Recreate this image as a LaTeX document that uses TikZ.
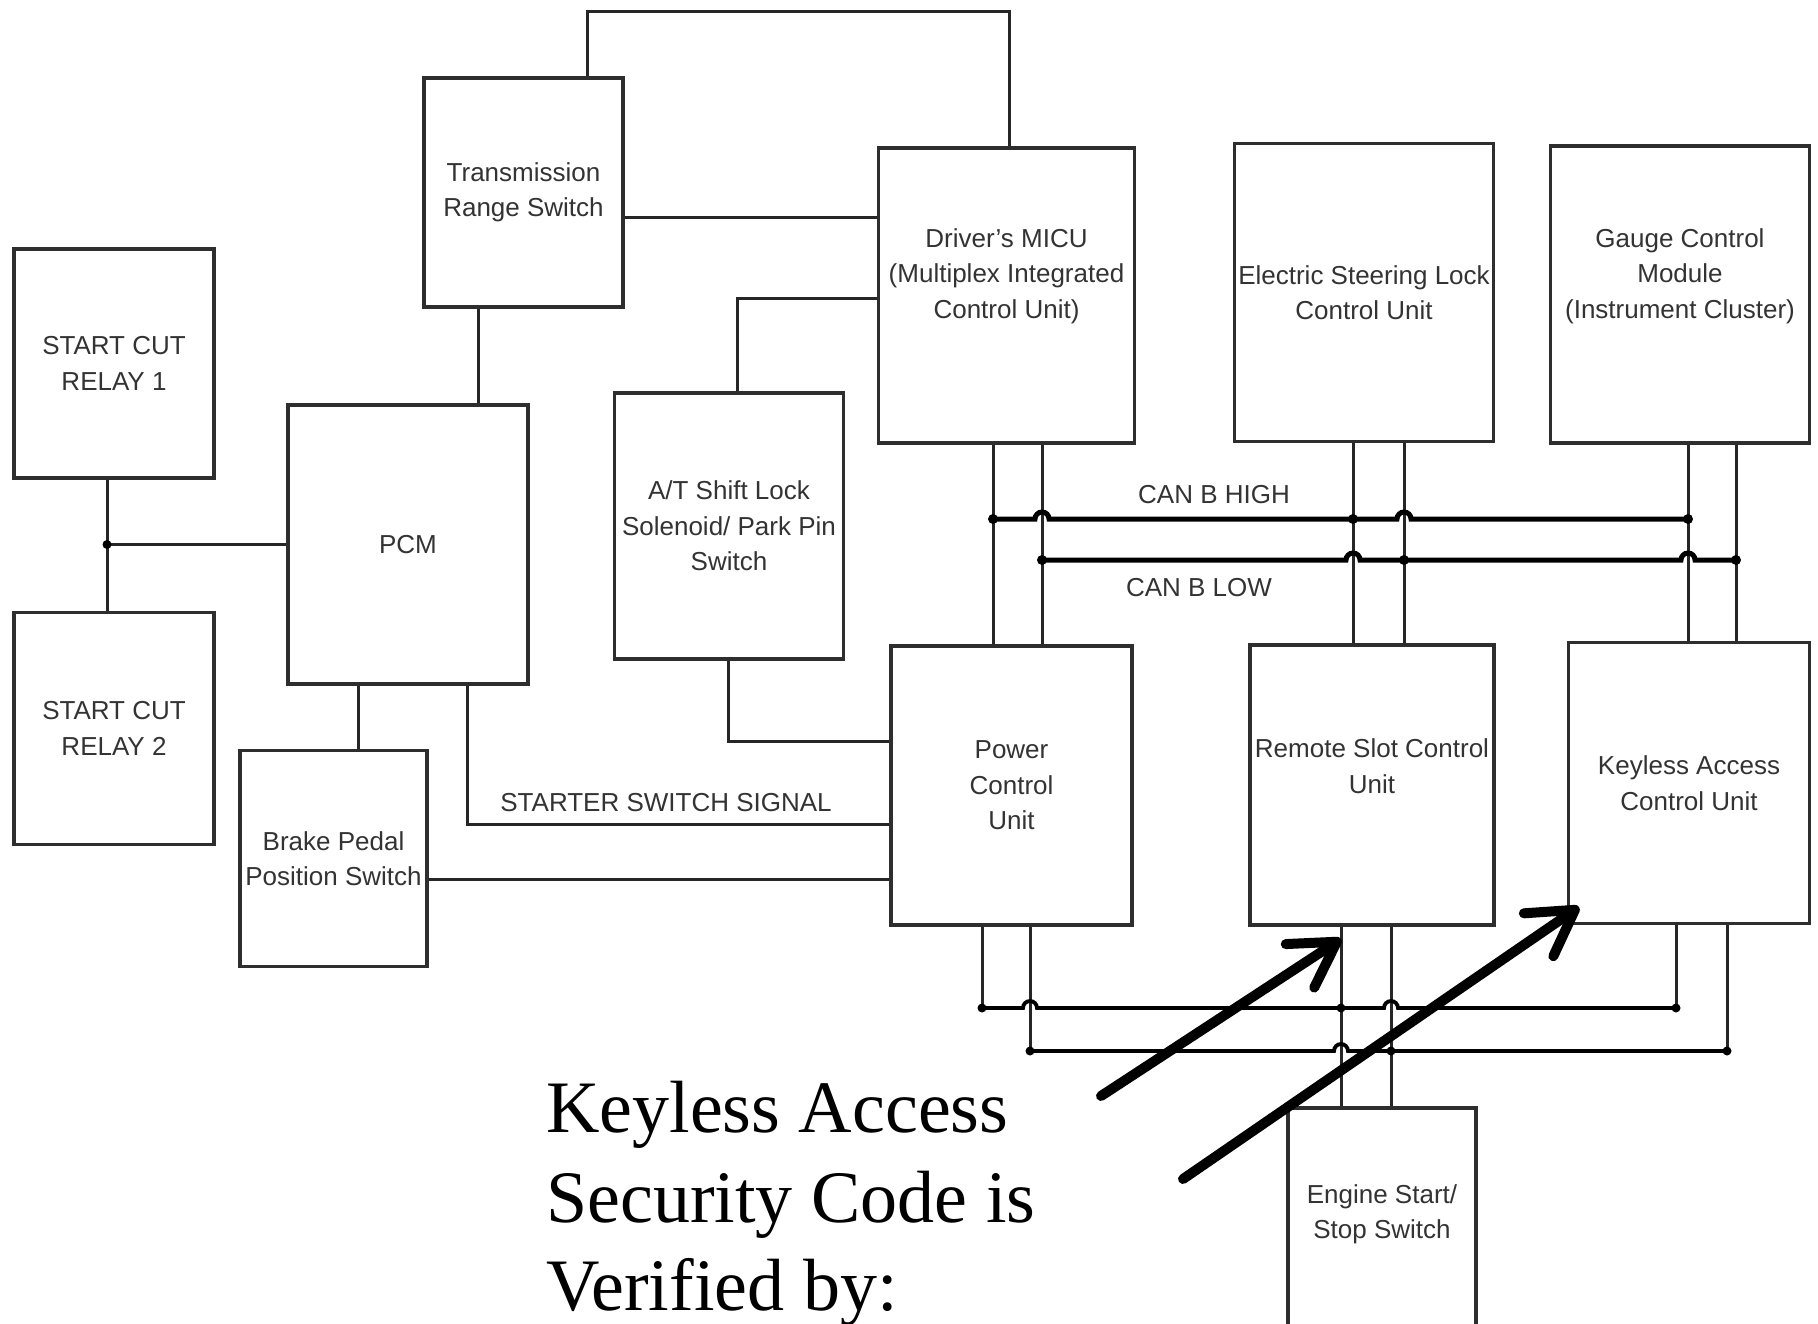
\documentclass[tikz,border=0pt]{standalone}
\usepackage{fontspec}
\newfontfamily\arialf{Liberation Sans}
\newfontfamily\timesf{Liberation Serif}
\usetikzlibrary{calc,arrows.meta}
\newcommand\boxfont{\arialf\fontsize{26}{35.5}\selectfont}
\newcommand\bigfont{\timesf\fontsize{74}{89}\selectfont}
\begin{document}
\begin{tikzpicture}[x=1pt,y=-1pt,
  box/.style={draw=black!82, line width=3.2pt, rectangle, inner sep=0pt, align=center, font=\boxfont, text=black!80},
  wire/.style={draw=black!85, line width=3pt},
  can/.style={draw=black, line width=5pt},
  lowbus/.style={draw=black, line width=3.8pt},
  jdot/.style={circle, fill=black, inner sep=0pt, minimum size=10pt},
  lbl/.style={font=\boxfont, text=black!80, inner sep=0pt, align=center},
  bigtxt/.style={font=\bigfont, inner sep=0pt, anchor=base west},
  bigarrow/.style={draw=black, line width=10pt, line cap=round, -{Straight Barb[length=44pt,width=52pt,round]}},
]
\useasboundingbox (0,0) rectangle (1818,1323);
\clip (0,0) rectangle (1818,1323);
\fill[white] (0,0) rectangle (1818,1323);

% boxes
\node[box, minimum width=200pt, minimum height=229pt] (scr1) at (114,363.5) {START CUT\\RELAY 1};
\node[box, minimum width=200pt, minimum height=232pt] (scr2) at (114,728.5) {START CUT\\RELAY 2};
\node[box, minimum width=240pt, minimum height=279pt] (pcm) at (408,544.5) {PCM};
\node[box, minimum width=199pt, minimum height=229pt] (trs) at (523.5,192.5) {Transmission\\Range Switch};
\node[box, minimum width=187pt, minimum height=216pt] (bpp) at (333.5,858.5) {Brake Pedal\\Position Switch};
\node[box, minimum width=229pt, minimum height=266pt] (at) at (729,526) {A/T Shift Lock\\Solenoid/ Park Pin\\Switch};
\node[box, minimum width=256pt, minimum height=295pt] (micu) at (1006.5,295.5) {};
\node[lbl] (micut) at (1006.5,276) {Driver’s MICU\\(Multiplex Integrated\\Control Unit)};
\node[box, minimum width=259pt, minimum height=298pt] (esl) at (1364,292.5) {Electric Steering Lock\\Control Unit};
\node[box, minimum width=259pt, minimum height=297pt] (gcm) at (1680,294.5) {};
\node[lbl] (gcmt) at (1680,276) {Gauge Control\\Module\\(Instrument Cluster)};
\node[box, minimum width=241pt, minimum height=279pt] (pcu) at (1011.5,785.5) {Power\\Control\\Unit};
\node[box, minimum width=244pt, minimum height=280pt] (rscu) at (1372,785) {};
\node[lbl] (rscut) at (1372,766) {Remote Slot Control\\Unit};
\node[box, minimum width=241pt, minimum height=281pt] (kacu) at (1689,783) {Keyless Access\\Control Unit};
\node[box, minimum width=188pt, minimum height=240pt] (ess) at (1382,1228) {};
\node[lbl] (esst) at (1382,1214.5) {Engine Start/\\Stop Switch};

% helper coordinates
\coordinate (tw) at (0,11);
\coordinate (xa) at (587,0);
\coordinate (xb) at (1009,0);
\coordinate (ytm) at (0,217);
\coordinate (xat1) at (737,0);
\coordinate (yat1) at (0,298);
\coordinate (xat2) at (728,0);
\coordinate (yat2) at (0,741);
\coordinate (xtp) at (478,0);
\coordinate (xr) at (107,0);
\coordinate (xpb) at (358,0);
\coordinate (xps) at (467,0);
\coordinate (yss) at (0,824);
\coordinate (ybp) at (0,879);

% upper wires
\draw[wire] (trs.north -| xa) -- (xa |- tw) -- (xb |- tw) -- (micu.north -| xb);
\draw[wire] (trs.east |- ytm) -- (micu.west |- ytm);
\draw[wire] (at.north -| xat1) |- (micu.west |- yat1);
\draw[wire] (at.south -| xat2) |- (pcu.west |- yat2);
\draw[wire] (trs.south -| xtp) -- (pcm.north -| xtp);
\draw[wire] (scr1.south -| xr) -- (scr2.north -| xr);
\draw[wire] (pcm.west) -- (pcm.west -| xr);
\node[jdot, minimum size=9pt] (jr) at (pcm.west -| xr) {};
\draw[wire] (pcm.south -| xpb) -- (bpp.north -| xpb);
\draw[wire] (pcm.south -| xps) |- (pcu.west |- yss);
\node[lbl] (sss) at (666,803) {STARTER SWITCH SIGNAL};
\draw[wire] (bpp.east |- ybp) -- (pcu.west |- ybp);

% CAN bus
\coordinate (v1) at (993,0);
\coordinate (v2) at (1042,0);
\coordinate (v3) at (1353,0);
\coordinate (v4) at (1404,0);
\coordinate (v5) at (1688,0);
\coordinate (v6) at (1736,0);
\coordinate (hi) at (0,519);
\coordinate (lo) at (0,560);
\draw[wire] (micu.south -| v1) -- (pcu.north -| v1);
\draw[wire] (micu.south -| v2) -- (pcu.north -| v2);
\draw[wire] (esl.south -| v3) -- (rscu.north -| v3);
\draw[wire] (esl.south -| v4) -- (rscu.north -| v4);
\draw[wire] (gcm.south -| v5) -- (kacu.north -| v5);
\draw[wire] (gcm.south -| v6) -- (kacu.north -| v6);
\draw[can] (v1 |- hi) -- ($(v2 |- hi)+(-7,0)$) arc[start angle=180,end angle=0,radius=7pt]
  -- ($(v4 |- hi)+(-7,0)$) arc[start angle=180,end angle=0,radius=7pt] -- (v5 |- hi);
\draw[can] (v2 |- lo) -- ($(v3 |- lo)+(-7,0)$) arc[start angle=180,end angle=0,radius=7pt]
  -- ($(v5 |- lo)+(-7,0)$) arc[start angle=180,end angle=0,radius=7pt] -- (v6 |- lo);
\node[jdot] (h1) at (v1 |- hi) {};
\node[jdot] (h3) at (v3 |- hi) {};
\node[jdot] (h5) at (v5 |- hi) {};
\node[jdot] (l2) at (v2 |- lo) {};
\node[jdot] (l4) at (v4 |- lo) {};
\node[jdot] (l6) at (v6 |- lo) {};
\node[lbl] (canh) at (1214,495) {CAN B HIGH};
\node[lbl] (canl) at (1199,588) {CAN B LOW};

% lower bus
\coordinate (w1) at (982,0);
\coordinate (w2) at (1030,0);
\coordinate (w3) at (1341,0);
\coordinate (w4) at (1391,0);
\coordinate (w5) at (1676,0);
\coordinate (w6) at (1727,0);
\coordinate (b1) at (0,1008);
\coordinate (b2) at (0,1051);
\draw[wire] (pcu.south -| w1) -- (w1 |- b1);
\draw[wire] (pcu.south -| w2) -- (w2 |- b2);
\draw[wire] (rscu.south -| w3) -- (ess.north -| w3);
\draw[wire] (rscu.south -| w4) -- (ess.north -| w4);
\draw[wire] (kacu.south -| w5) -- (w5 |- b1);
\draw[wire] (kacu.south -| w6) -- (w6 |- b2);
\draw[lowbus] (w1 |- b1) -- ($(w2 |- b1)+(-7,0)$) arc[start angle=180,end angle=0,radius=7pt]
  -- ($(w4 |- b1)+(-7,0)$) arc[start angle=180,end angle=0,radius=7pt] -- (w5 |- b1);
\draw[lowbus] (w2 |- b2) -- ($(w3 |- b2)+(-7,0)$) arc[start angle=180,end angle=0,radius=7pt] -- (w6 |- b2);
\node[jdot, minimum size=9pt] (p1) at (w1 |- b1) {};
\node[jdot, minimum size=9pt] (p3) at (w3 |- b1) {};
\node[jdot, minimum size=9pt] (p5) at (w5 |- b1) {};
\node[jdot, minimum size=9pt] (q2) at (w2 |- b2) {};
\node[jdot, minimum size=9pt] (q4) at (w4 |- b2) {};
\node[jdot, minimum size=9pt] (q6) at (w6 |- b2) {};

% caption text
\node[bigtxt] (t1) at (546,1132) {Keyless Access};
\node[bigtxt] (t2) at (546,1222) {Security Code is};
\node[bigtxt] (t3) at (546,1310) {Verified by:};

% arrows
\coordinate (a1s) at (1101,1096);
\coordinate (a1e) at (1341,939);
\coordinate (a2s) at (1183,1179);
\coordinate (a2e) at (1579,907);
\draw[bigarrow] (a1s) -- (a1e);
\draw[bigarrow] (a2s) -- (a2e);
\end{tikzpicture}
\end{document}
